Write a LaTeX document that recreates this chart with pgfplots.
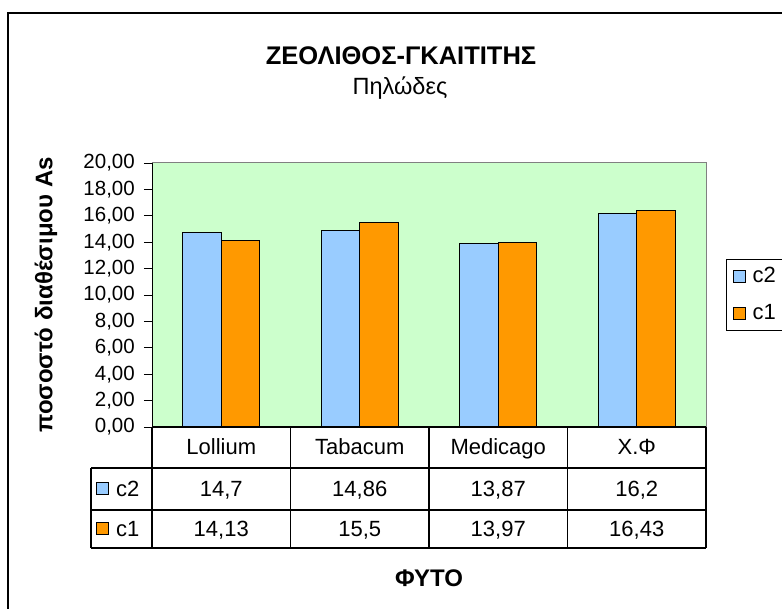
\documentclass[border=0pt]{standalone}
\usepackage{fontspec}
\setmainfont{Liberation Sans}
\usepackage{pgfplots}
\pgfplotsset{compat=1.18}
\definecolor{bgreen}{HTML}{CCFFCC}
\definecolor{cblue}{HTML}{99CCFF}
\definecolor{corange}{HTML}{FF9900}
\begin{document}
\fontsize{22}{26}\selectfont
\begin{tikzpicture}[x=1pt,y=1pt, cell/.style={anchor=base, inner sep=0pt}]
\useasboundingbox (0,0) rectangle (782,608);
\fill[white] (0,0) rectangle (782,608);
\draw[line width=1.6pt] (8,-10) -- (8,595) -- (800,595);
\node[font=\fontsize{25.5}{30}\selectfont\bfseries] at (401,552) {ΖΕΟΛΙΘΟΣ-ΓΚΑΙΤΙΤΗΣ};
\node[font=\fontsize{23.5}{28}\selectfont] at (400,520) {Πηλώδες};
\node[font=\fontsize{24}{28}\selectfont\bfseries, rotate=90] at (46,313) {ποσοστό διαθέσιμου As};
\begin{axis}[
  at={(152pt,181pt)}, anchor=south west,
  scale only axis, width=554pt, height=264pt,
  xmin=-0.5, xmax=3.5, ymin=0, ymax=20,
  ytick={0,2,...,20}, ytick pos=left,
  xtick=\empty,
  tick align=outside, major tick length=8pt,
  tick style={black, line width=0.8pt},
  axis background/.style={fill=bgreen},
  axis line style={draw=gray, line width=1pt},
  ybar=0pt, bar width=38.5pt,
  /pgf/number format/.cd, fixed, fixed zerofill, precision=2, use comma, assume math mode=true,
  /pgfplots/.cd,
  yticklabel style={font=\fontsize{20.5}{24}\selectfont, inner sep=0pt, xshift=-9pt},
  legend style={at={(1,0.5)}, anchor=west, xshift=20pt, draw=black, line width=1pt,
    font=\fontsize{22}{26}\selectfont, row sep=14pt, inner xsep=6pt, inner ysep=6pt,
    cells={anchor=west}},
  legend image code/.code={\draw[#1, draw=black, line width=1pt] (0pt,-6pt) rectangle (12pt,6pt);},
]
\addplot[fill=cblue, draw=black, line width=1pt] coordinates {(0,14.7) (1,14.86) (2,13.87) (3,16.2)};
\addplot[fill=corange, draw=black, line width=1pt] coordinates {(0,14.13) (1,15.5) (2,13.97) (3,16.43)};
\legend{\hspace{5pt}c2\hspace{20pt},\hspace{5pt}c1}
\end{axis}
\draw[black, line width=1pt] (152,181) -- (152,445);
% data table
\begin{scope}[line width=1.1pt]
\draw (152,181) -- (706,181);
\draw (91,140) -- (706,140);
\draw (91,98) -- (706,98);
\draw (91,60) -- (706,60);
\draw (91,140) -- (91,60);
\foreach \xx in {152,290.5,429,567.5,706} \draw (\xx,181) -- (\xx,60);
\end{scope}
\node[cell] at (221.25,153) {Lollium};
\node[cell] at (359.75,153) {Tabacum};
\node[cell] at (498.25,153) {Medicago};
\node[cell] at (636.75,153) {Χ.Φ};
\node[cell] at (221.25,111) {14,7};
\node[cell] at (359.75,111) {14,86};
\node[cell] at (498.25,111) {13,87};
\node[cell] at (636.75,111) {16,2};
\node[cell] at (221.25,71) {14,13};
\node[cell] at (359.75,71) {15,5};
\node[cell] at (498.25,71) {13,97};
\node[cell] at (636.75,71) {16,43};
\draw[fill=cblue, line width=1pt] (96,113) rectangle (108,125);
\node[anchor=base west, inner sep=0pt] at (116,111) {c2};
\draw[fill=corange, line width=1pt] (96,73) rectangle (108,85);
\node[anchor=base west, inner sep=0pt] at (116,71) {c1};
\node[font=\fontsize{24}{28}\selectfont\bfseries] at (429,30) {ΦΥΤΟ};
\end{tikzpicture}
\end{document}
